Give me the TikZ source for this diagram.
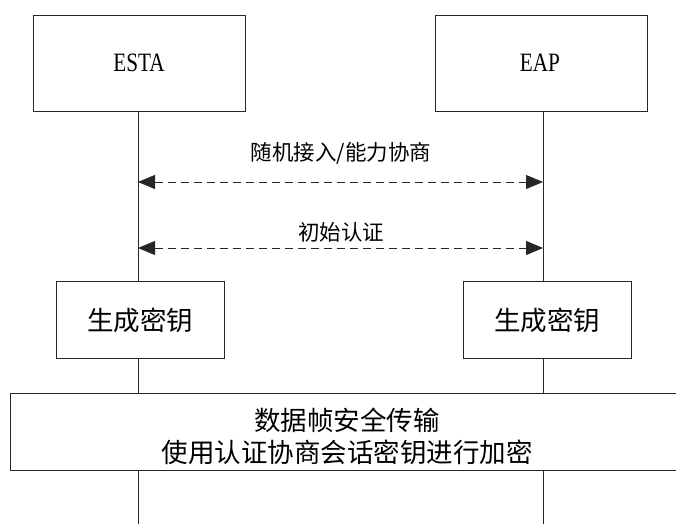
\documentclass[tikz,border=0pt]{standalone}
\usepackage{fontspec}
\setmainfont{Liberation Serif}
\newfontfamily\cjk{Noto Sans CJK SC}
\newfontfamily\lat[FakeStretch=0.8]{Liberation Serif}
\usetikzlibrary{arrows.meta}
\tikzset{
  box/.style={draw=black!85, line width=0.9pt, inner sep=0pt, anchor=north west},
  life/.style={draw=black!85, line width=0.9pt},
  msg/.style={draw=black!85, line width=0.9pt, dash pattern=on 8pt off 5pt,
    {Triangle[length=17pt,width=14pt]}-{Triangle[length=17pt,width=14pt]}},
  lbl/.style={font=\cjk\fontsize{21.5}{24}\selectfont, inner sep=0pt},
  keyt/.style={font=\cjk\fontsize{26.5}{32}\selectfont, inner sep=0pt},
  big/.style={font=\cjk\fontsize{26.5}{32}\selectfont, inner sep=0pt, align=center}
}
\begin{document}
\begin{tikzpicture}[x=1pt,y=-1pt]
\useasboundingbox (0,0) rectangle (676,524);
% actor boxes
\node[box, minimum width=212pt, minimum height=96pt] (esta) at (33,15) {};
\node[font=\lat\fontsize{26.5}{30}\selectfont, inner sep=0pt] (estat) at (139,63) {ESTA};
\node[box, minimum width=212pt, minimum height=96pt] (eap) at (435,15) {};
\node[font=\lat\fontsize{26.5}{30}\selectfont, inner sep=0pt] (eapt) at (540,63) {EAP};
% key boxes
\node[box, minimum width=168pt, minimum height=77pt] (k1) at (56,281) {};
\node[keyt] at (140,320) {生成密钥};
\node[box, minimum width=168pt, minimum height=77pt] (k2) at (463,281) {};
\node[keyt] at (547,320) {生成密钥};
% big box
\node[box, minimum width=666pt, minimum height=77pt] (bb) at (9.5,393) {};
\node[big] at (347,436) {数据帧安全传输\\使用认证协商会话密钥进行加密};
% lifeline coordinates
\coordinate (l1) at (138,111);
\coordinate (r1) at (543,111);
\coordinate (l2) at (138,281);
\coordinate (r2) at (543,281);
\coordinate (l3) at (138,358);
\coordinate (r3) at (543,358);
\coordinate (l4) at (138,393);
\coordinate (r4) at (543,393);
\coordinate (l5) at (138,470);
\coordinate (r5) at (543,470);
\coordinate (l6) at (138,524);
\coordinate (r6) at (543,524);
\draw[life] (l1) -- (l2) (l3) -- (l4) (l5) -- (l6);
\draw[life] (r1) -- (r2) (r3) -- (r4) (r5) -- (r6);
% messages
\coordinate (a1) at (138,182);
\coordinate (b1) at (543,182);
\coordinate (a2) at (138,248);
\coordinate (b2) at (543,248);
\draw[msg] (a1) -- (b1);
\draw[msg] (a2) -- (b2);
\node[lbl] at (341,153) {随机接入/能力协商};
\node[lbl] at (341,232) {初始认证};
\end{tikzpicture}
\end{document}
